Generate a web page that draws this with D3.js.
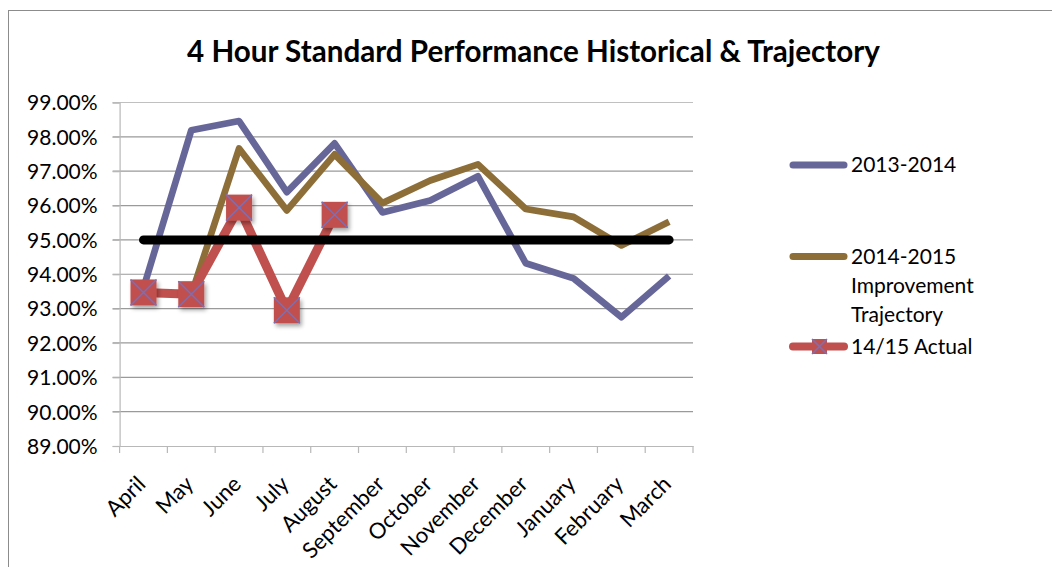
<!DOCTYPE html>
<html><head><meta charset="utf-8">
<script src="https://cdn.jsdelivr.net/npm/d3@7"></script>
<style>
html,body{margin:0;padding:0;background:#fff;}
svg{display:block;font-family:Lato, "Open Sans", sans-serif;}
</style></head>
<body>
<svg id="c" width="1052" height="567"></svg>
<script>
const months = ["April","May","June","July","August","September","October","November","December","January","February","March"];
const series2013 = [93.6, 98.19, 98.46, 96.39, 97.81, 95.8, 96.15, 96.85, 94.32, 93.88, 92.75, 93.95];
const series2014 = [93.5, 93.4, 97.66, 95.86, 97.49, 96.07, 96.73, 97.2, 95.9, 95.67, 94.84, 95.53];
const actual1415 = [93.47, 93.42, 95.94, 92.95, 95.73];
const target = [95,95,95,95,95,95,95,95,95,95,95,95];
const yTicks = [89,90,91,92,93,94,95,96,97,98,99];
const legendLabels = [["2013-2014"],["2014-2015","Improvement","Trajectory"],["14/15 Actual"]];

(function(){
const svg = d3.select("#c");
const W = 1052, H = 567;
const pL = 119.6, pR = 693, pT = 102.5, pB = 446;

// border
svg.append("rect").attr("x",8.5).attr("y",10.5).attr("width",W+10).attr("height",H+10)
  .attr("fill","#fff").attr("stroke","#8c8c8c").attr("stroke-width",1);

const x = d3.scaleBand().domain(months).range([pL,pR]);
const y = d3.scaleLinear().domain([89,99]).range([pB,pT]);
const cx = m => x(m) + x.bandwidth()/2;

// gridlines
svg.append("g").selectAll("line").data(yTicks.filter(t=>t>89)).join("line")
  .attr("x1",pL-7).attr("x2",pR).attr("y1",d=>y(d)).attr("y2",d=>y(d))
  .attr("stroke",d=>d===99?"#c0c0c0":"#9a9a9a").attr("stroke-width",1.2);

// y axis
const yAxis = d3.axisLeft(y).tickValues(yTicks).tickSize(7).tickFormat(d=>d.toFixed(2)+"%");
const ya = svg.append("g").attr("transform",`translate(${pL},0)`).call(yAxis);
ya.select(".domain").attr("stroke","#b8b8b8").attr("stroke-width",1.2);
ya.selectAll(".tick line").attr("stroke","#b8b8b8").attr("stroke-width",1.2);
ya.selectAll(".tick text").attr("font-size",21).attr("font-family","Lato").attr("fill","#000")
  .attr("x",-22).attr("dy","0.35em");

// x axis
const xAxis = d3.axisBottom(x).tickSize(0).tickFormat("");
const xa = svg.append("g").attr("transform",`translate(0,${pB})`).call(xAxis);
xa.select(".domain").attr("stroke","#b8b8b8").attr("stroke-width",1.2);
xa.selectAll(".tick").remove();
const bounds = months.map(m=>x(m)).concat([pR]);
svg.append("g").selectAll("line").data(bounds).join("line")
  .attr("x1",d=>d).attr("x2",d=>d).attr("y1",pB).attr("y2",pB+7)
  .attr("stroke","#b8b8b8").attr("stroke-width",1.2);
svg.append("g").selectAll("text").data(months).join("text")
  .attr("transform",d=>`translate(${cx(d)-2},${pB+34}) rotate(-45)`)
  .attr("text-anchor","end").attr("font-size",22).attr("font-family","Lato")
  .attr("dy","0.35em").attr("fill","#000").text(d=>d);

// lines
const line = d3.line().x((d,i)=>cx(months[i])).y(d=>y(d));
const colBlue = "#676699", colBrown = "#8e6e38", colRed = "#c0504d", colX = "#7b6fb6";

svg.append("path").datum(series2013).attr("d",line).attr("fill","none")
  .attr("stroke",colBlue).attr("stroke-width",6.7).attr("stroke-linejoin","round");
svg.append("path").datum(series2014).attr("d",line).attr("fill","none")
  .attr("stroke",colBrown).attr("stroke-width",6.7).attr("stroke-linejoin","round");

const defs = svg.append("defs");
const f = defs.append("filter").attr("id","sh").attr("x","-30%").attr("y","-30%").attr("width","170%").attr("height","170%");
f.append("feGaussianBlur").attr("in","SourceAlpha").attr("stdDeviation",2);
f.append("feOffset").attr("dx",2).attr("dy",3).attr("result","o");
f.append("feComponentTransfer").append("feFuncA").attr("type","linear").attr("slope",0.35);
const fm = f.append("feMerge"); fm.append("feMergeNode"); fm.append("feMergeNode").attr("in","SourceGraphic");

svg.append("path").datum(actual1415).attr("d",line).attr("fill","none")
  .attr("stroke",colRed).attr("stroke-width",9).attr("stroke-linejoin","round");
const ms = 13;
const mk = svg.append("g").selectAll("g").data(actual1415).join("g")
  .attr("transform",(d,i)=>`translate(${cx(months[i])},${y(d)})`);
mk.append("rect").attr("x",-ms).attr("y",-ms).attr("width",2*ms).attr("height",2*ms)
  .attr("fill",colRed).attr("filter","url(#sh)");
mk.append("path").attr("d",`M${-ms},${-ms}L${ms},${ms}M${ms},${-ms}L${-ms},${ms}`)
  .attr("stroke",colX).attr("stroke-width",1.5);

svg.append("path").datum(target).attr("d",line).attr("fill","none")
  .attr("stroke","#000").attr("stroke-width",9).attr("stroke-linecap","round");

// title
const title = svg.append("text").attr("x",533.5).attr("y",61.5).attr("text-anchor","middle")
  .attr("font-family","Lato").attr("font-weight","bold").attr("font-size",28).attr("fill","#000")
  .text("4 Hour Standard Performance Historical & Trajectory");
const tw = title.node().getComputedTextLength();
title.attr("font-size", 28*693/tw);

// legend
const legY = [165, 256.5, 346.5];
const legCols = [colBlue, colBrown, colRed];
const lg = svg.append("g");
legendLabels.forEach((lines,i)=>{
  lg.append("line").attr("x1",793).attr("x2",844).attr("y1",legY[i]).attr("y2",legY[i])
    .attr("stroke",legCols[i]).attr("stroke-width",i===2?8:7).attr("stroke-linecap","round");
  if(i===2){
    lg.append("rect").attr("x",812).attr("y",legY[i]-7.5).attr("width",15).attr("height",15).attr("fill",colRed);
    lg.append("path").attr("d",`M812,${legY[i]-7.5}l15,15M827,${legY[i]-7.5}l-15,15`).attr("stroke",colX).attr("stroke-width",1.5);
  }
  const t = lg.append("text").attr("y",legY[i]).attr("font-family","Lato").attr("font-size",21).attr("fill","#000");
  lines.forEach((s,j)=>t.append("tspan").attr("x",851).attr("dy",j===0?"0.35em":"1.38em").text(s));
});
})();
</script>
</body></html>
